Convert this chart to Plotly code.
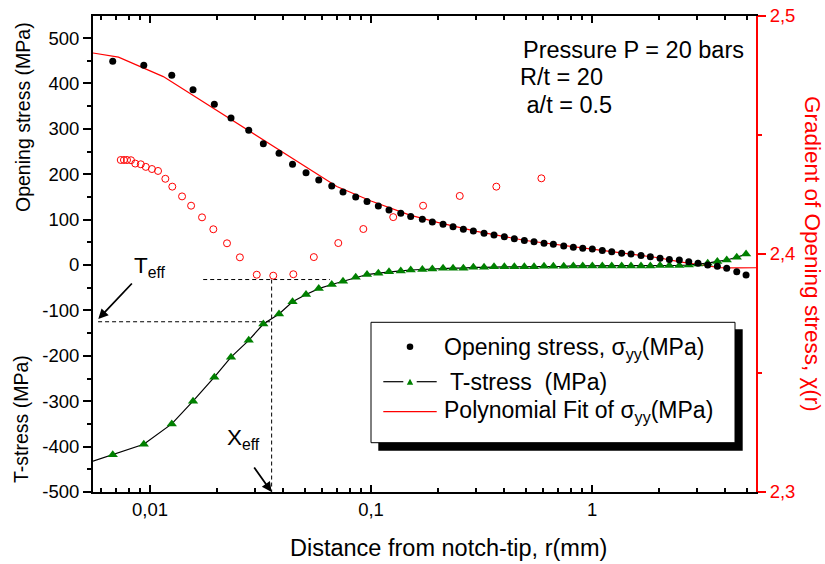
import math
import plotly.graph_objects as go

# ---------------- data ----------------
r_mm = [0.00678, 0.00937, 0.01254, 0.01565, 0.01954, 0.02325, 0.02796, 0.03256, 0.03834, 0.04413,
        0.0508, 0.058, 0.06642, 0.07468, 0.08524, 0.09592, 0.1079, 0.1206, 0.1363, 0.1512,
        0.1707, 0.1894, 0.2118, 0.235, 0.2617, 0.2904, 0.3246, 0.3601, 0.4011, 0.445,
        0.494, 0.5464, 0.6064, 0.6682, 0.7446, 0.823, 0.9078, 1.003, 1.113, 1.228,
        1.362, 1.501, 1.666, 1.836, 2.031, 2.238, 2.483, 2.74, 3.017, 3.338,
        3.69, 4.069, 4.517, 4.977]
opening_stress = [449, 440, 418, 386, 354, 324, 297, 267, 246, 222,
                  203, 187, 174, 161, 150, 140, 130, 121, 114, 107,
                  101, 95, 90, 84, 79, 75, 70, 66, 62, 58,
                  54, 51, 48, 46, 42, 39, 37, 35, 32, 29,
                  26, 24, 21, 18, 15, 12, 11, 7, 4, 0,
                  -3, -7, -15, -22]
t_stress = [-418, -395, -350, -300, -247, -203, -166, -130, -108, -81,
            -65, -52, -43, -36, -27, -21, -18, -15, -13, -11,
            -10, -9, -7, -7, -7, -5, -5, -4, -4, -4,
            -4, -4, -3, -3, -3, -2, -2, -2, -2, -2,
            -2, -2, -2, -2, -1, -1, -1, 0, 2, 4,
            8, 11, 17, 24]
# T-stress curve extrapolated to the left border
t_line_r = [0.00552] + r_mm
t_line_val = [-432] + t_stress

# polynomial fit of sigma_yy
fit_r = [0.00552, 0.0072, 0.01148, 0.0477, 0.07, 0.1, 0.15, 0.2, 0.3, 0.5,
         0.7, 1.0, 1.5, 2.0, 2.5, 3.0, 3.8, 4.5, 5.52]
fit_val = [467, 458, 415, 224, 173, 141, 110, 94, 74, 54,
           44, 35, 24, 16, 7, 2, -6, -6.5, -6]

# gradient of opening stress chi(r)
chi_r = [0.00737, 0.00762, 0.00787, 0.0082, 0.00857, 0.00908, 0.00957, 0.0102, 0.01087, 0.01173,
         0.01261, 0.01396, 0.01534, 0.01719, 0.01934, 0.0223, 0.0255, 0.0304, 0.0361, 0.0445,
         0.0551, 0.0711, 0.0923, 0.126, 0.172, 0.252, 0.369, 0.590]
chi_val = [2.4395, 2.4395, 2.4395, 2.4394, 2.4380, 2.4377, 2.4366, 2.4357, 2.4349, 2.4316,
           2.4283, 2.4242, 2.4203, 2.4154, 2.4104, 2.4045, 2.3986, 2.3913, 2.3909, 2.3915,
           2.3987, 2.4046, 2.4105, 2.4155, 2.4203, 2.4244, 2.4283, 2.4318]

# effective values
X_EFF = 0.0355
T_EFF = -125
CHI_MIN_LEVEL = -32          # on the left axis scale
CHI_MIN_RANGE = [0.0174, 0.0652]
T_EFF_START = 0.00582

x_tickvals = [0.01, 0.1, 1]
x_ticktext = ["0,01", "0,1", "1"]
y_tickvals = [-500, -400, -300, -200, -100, 0, 100, 200, 300, 400, 500]
y_ticktext = ["-500", "-400", "-300", "-200", "-100", "0", "100", "200", "300", "400", "500"]
y2_tickvals = [2.3, 2.4, 2.5]
y2_ticktext = ["2,3", "2,4", "2,5"]
x_minor = [0.006, 0.007, 0.008, 0.009, 0.02, 0.03, 0.04, 0.05, 0.06, 0.07, 0.08, 0.09,
           0.2, 0.3, 0.4, 0.5, 0.6, 0.7, 0.8, 0.9, 2, 3, 4, 5]

FONT = "Liberation Sans, Arial, sans-serif"
GREEN = "#008000"
RED = "#ff0000"

W, H = 825, 564
L, R, T, B = 93, 69, 16, 72
PW, PH = W - L - R, H - T - B


def px(xp):
    return (xp - L) / PW


def py(yp):
    return (H - B - yp) / PH


fig = go.Figure()

# dashed guide lines
fig.add_trace(go.Scatter(x=[T_EFF_START, X_EFF], y=[T_EFF, T_EFF], mode="lines",
                         line=dict(color="black", width=1, dash="4px,3px"), showlegend=False))
fig.add_trace(go.Scatter(x=[X_EFF, X_EFF], y=[CHI_MIN_LEVEL, -500], mode="lines",
                         line=dict(color="black", width=1, dash="4px,3px"), showlegend=False))
fig.add_trace(go.Scatter(x=CHI_MIN_RANGE, y=[CHI_MIN_LEVEL, CHI_MIN_LEVEL], mode="lines",
                         line=dict(color="black", width=1, dash="4px,3px"), showlegend=False))

# polynomial fit
fig.add_trace(go.Scatter(x=fit_r, y=fit_val, mode="lines",
                         line=dict(color=RED, width=1.2), showlegend=False))
# T-stress line + symbols
fig.add_trace(go.Scatter(x=t_line_r, y=t_line_val, mode="lines",
                         line=dict(color="black", width=1.2), showlegend=False))
fig.add_trace(go.Scatter(x=r_mm, y=t_stress, mode="markers",
                         marker=dict(symbol="triangle-up", size=9, color=GREEN), showlegend=False))
# opening stress
fig.add_trace(go.Scatter(x=r_mm, y=opening_stress, mode="markers",
                         marker=dict(symbol="circle", size=7, color="black"), showlegend=False))
# gradient chi on right axis
fig.add_trace(go.Scatter(x=chi_r, y=chi_val, mode="markers", yaxis="y2",
                         marker=dict(symbol="circle-open", size=7, color=RED, line=dict(width=1)),
                         showlegend=False))

shapes = []
# legend shadow and box
shapes.append(dict(type="rect", xref="paper", yref="paper", x0=px(378.3), x1=px(742.7),
                   y0=py(450.7), y1=py(329.3), fillcolor="black", line=dict(width=0), layer="above"))
shapes.append(dict(type="rect", xref="paper", yref="paper", x0=px(371), x1=px(735),
                   y0=py(442.7), y1=py(322.3), fillcolor="white", line=dict(color="black", width=1),
                   layer="above"))
# legend symbols
shapes.append(dict(type="circle", xref="paper", yref="paper", x0=px(406.7), x1=px(413.3),
                   y0=py(350), y1=py(343.4), fillcolor="black", line=dict(width=0), layer="above"))
shapes.append(dict(type="line", xref="paper", yref="paper", x0=px(383.3), x1=px(403.3),
                   y0=py(381.7), y1=py(381.7), line=dict(color="black", width=1.2), layer="above"))
shapes.append(dict(type="line", xref="paper", yref="paper", x0=px(416.7), x1=px(436.7),
                   y0=py(381.7), y1=py(381.7), line=dict(color="black", width=1.2), layer="above"))
shapes.append(dict(type="path", xref="paper", yref="paper",
                   path=f"M {px(406.8)} {py(384.7)} L {px(413.2)} {py(384.7)} L {px(410)} {py(378.7)} Z",
                   fillcolor=GREEN, line=dict(width=0), layer="above"))
shapes.append(dict(type="line", xref="paper", yref="paper", x0=px(383.3), x1=px(436.7),
                   y0=py(411.7), y1=py(411.7), line=dict(color=RED, width=1.2), layer="above"))

ann = []


def text(xp, yp, s, size, color="black", xanchor="left", angle=0):
    ann.append(dict(x=px(xp), y=py(yp), xref="paper", yref="paper", text=s, showarrow=False,
                    xanchor=xanchor, yanchor="middle", textangle=angle,
                    font=dict(family=FONT, size=size, color=color)))


# info box
text(521, 50, "Pressure P = 20 bars", 23.5)
text(518, 77, "R/t = 20", 23.5)
text(518, 105, " a/t = 0.5", 23.5)
# legend texts
text(442, 348, "Opening stress, σ<sub>yy</sub>(MPa)", 23)
text(442, 382, " T-stress  (MPa)", 23)
text(442, 412, "Polynomial Fit of σ<sub>yy</sub>(MPa)", 23)
# effective value labels
text(132, 267, "T<sub>eff</sub>", 22.5)
text(225, 439, "X<sub>eff</sub>", 22.5)
# axis titles
text(448, 548, "Distance from notch-tip, r(mm)", 23.5, xanchor="center")
text(23, 117, "Opening stress (MPa)", 19.5, xanchor="center", angle=-90)
text(21, 419, "T-stress (MPa)", 19.5, xanchor="center", angle=-90)
text(813, 254, "Gradient of Opening stress, χ(r)", 22.5, color=RED, xanchor="center", angle=90)

# arrows
ann.append(dict(x=px(98.3), y=py(319), xref="paper", yref="paper", text="", showarrow=True,
                ax=35, ay=-37, arrowhead=2, arrowsize=1.1, arrowwidth=1.8, arrowcolor="black",
                standoff=0))
ann.append(dict(x=math.log10(X_EFF), y=-500, xref="x", yref="y", text="", showarrow=True,
                ax=-18.5, ay=-26, arrowhead=2, arrowsize=1.1, arrowwidth=1.8, arrowcolor="black",
                standoff=0))

fig.update_layout(
    width=W, height=H,
    margin=dict(l=L, r=R, t=T, b=B, pad=0, autoexpand=False),
    paper_bgcolor="white", plot_bgcolor="white",
    showlegend=False,
    font=dict(family=FONT, size=18.5, color="black"),
    shapes=shapes, annotations=ann,
    xaxis=dict(type="log", range=[math.log10(0.00552), math.log10(5.52)], automargin=False,
               tickmode="array", tickvals=x_tickvals, ticktext=x_ticktext,
               ticks="inside", ticklen=7, tickwidth=1.5, tickcolor="black",
               minor=dict(tickmode="array", tickvals=x_minor, ticks="inside", ticklen=4,
                          tickwidth=1.5, tickcolor="black", showgrid=False),
               showline=True, linecolor="black", linewidth=2, mirror="ticks",
               showgrid=False, zeroline=False,
               tickfont=dict(family=FONT, size=18.5, color="black")),
    yaxis=dict(range=[-500, 548.5], automargin=False,
               tickmode="array", tickvals=y_tickvals, ticktext=y_ticktext,
               ticks="outside", ticklen=8, tickwidth=1.5, tickcolor="black",
               minor=dict(dtick=50, tick0=0, ticks="outside", ticklen=4, tickwidth=1.5,
                          tickcolor="black", showgrid=False),
               showline=True, linecolor="black", linewidth=2, mirror=False,
               showgrid=False, zeroline=False,
               tickfont=dict(family=FONT, size=18.5, color="black")),
    yaxis2=dict(range=[2.3, 2.5], overlaying="y", side="right", anchor="x", automargin=False,
                tickmode="array", tickvals=y2_tickvals, ticktext=y2_ticktext,
                ticks="outside", ticklen=8, tickwidth=1.5, tickcolor=RED,
                minor=dict(tickmode="array", tickvals=[2.35, 2.45], ticks="outside", ticklen=4,
                           tickwidth=1.5, tickcolor=RED, showgrid=False),
                showline=True, linecolor=RED, linewidth=2,
                showgrid=False, zeroline=False,
                tickfont=dict(family=FONT, size=18.5, color=RED)),
)

fig.write_html("out.html", config={"displayModeBar": False},
               post_script="document.body.style.margin='0px';")
